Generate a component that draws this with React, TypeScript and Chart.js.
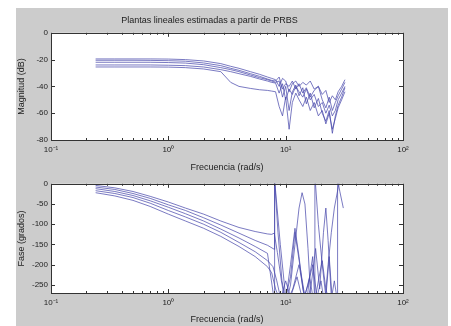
import React, { useEffect, useRef } from 'react';
import { Chart, registerables } from 'chart.js';
Chart.register(...registerables);

const titleText = 'Plantas lineales estimadas a partir de PRBS';
const xTitle = 'Frecuencia (rad/s)';
const magTitle = 'Magnitud (dB)';
const phaseTitle = 'Fase (grados)';

const decadeTicks = [0.1, 1, 10, 100];
const decadeLabels = ['10⁻¹', '10⁰', '10¹', '10²'];
const minorMultipliers = [2, 3, 4, 5, 6, 7, 8, 9];
const magTicks = [0, -20, -40, -60, -80];
const phaseTicks = [0, -50, -100, -150, -200, -250];

const magFreq = [0.24, 0.35, 0.5, 0.7, 1.0, 1.4, 2.0, 2.8, 3.4, 4.0, 5.0, 6.0, 7.0, 7.6, 8.2, 8.8, 9.4, 10.0, 10.7, 11.4, 12.2, 13.0, 14.0, 15.0, 16.2, 17.5, 19.0, 20.5, 22.0, 23.5, 25.0, 26.5, 28.0, 30.0, 32.0];
const mag1 = [-19.5, -19.5, -19.5, -19.5, -19.6, -20, -21, -23, -25, -26.5, -29, -31, -33, -34, -35, -40, -34, -36, -44, -38, -36, -40, -37, -39, -36, -42, -40, -46, -43, -52, -47, -50, -44, -40, -35];
const mag2 = [-20.5, -20.5, -20.5, -20.6, -20.8, -21.2, -22.5, -24.5, -26.5, -28, -30.5, -32.5, -34.5, -35.5, -36, -33, -42, -38, -40, -36, -42, -38, -45, -41, -48, -43, -40, -50, -56, -48, -58, -52, -47, -42, -37];
const mag3 = [-24, -24, -24, -24, -24.2, -24.5, -25.5, -27.5, -29, -30.5, -32.5, -34.5, -36, -37, -37.5, -45, -38, -50, -42, -46, -40, -44, -48, -42, -50, -46, -55, -52, -60, -54, -62, -58, -50, -45, -40];
const mag4 = [-25.5, -25.5, -25.5, -25.5, -25.6, -26, -27, -29, -37, -40, -41.5, -42.5, -43, -43.5, -44, -55, -62, -48, -72, -52, -45, -50, -55, -48, -58, -52, -62, -58, -68, -60, -72, -64, -56, -50, -44];
const mag5 = [-22, -22, -22, -22, -22.2, -22.6, -23.8, -26, -27.5, -29, -31.5, -33.5, -35, -36, -37, -36, -48, -40, -58, -44, -39, -47, -41, -53, -45, -56, -49, -60, -66, -58, -75, -62, -54, -48, -41];

const phFreq1 = [0.24, 0.35, 0.5, 0.7, 1.0, 1.4, 2.0, 2.8, 4.0, 5.5, 7.0, 7.6, 8.0, 8.5, 9.2, 10.0, 11.0, 12.0, 13.0, 13.8, 14.6, 15.5, 16.5, 17.7];
const phase1 = [-4, -10, -19, -31, -45, -60, -75, -92, -108, -118, -124, -125, -122, -170, -240, -300, -250, -150, -60, -22, -50, -160, -300, -320];
const phFreq2 = [0.24, 0.35, 0.5, 0.7, 1.0, 1.4, 2.0, 2.8, 4.0, 5.5, 7.0, 8.0, 8.05, 8.6, 9.3, 10.0, 11.0, 12.0, 13.0, 14.0, 15.0, 16.0, 17.0, 17.7, 17.75, 19.0, 20.5, 22.0, 23.5, 25.0];
const phase2 = [-8, -14, -24, -36, -52, -66, -84, -102, -122, -140, -152, -162, 10, -120, -240, -290, -200, -110, -180, -260, -300, -230, -180, -290, 20, -100, -200, -280, -180, -290];
const phFreq3 = [0.24, 0.35, 0.5, 0.7, 1.0, 1.4, 2.0, 2.8, 4.0, 5.5, 7.0, 8.0, 8.05, 9.0, 10.0, 11.0, 12.0, 13.5, 15.0, 16.5, 18.0, 19.5, 21.0, 22.0, 23.0, 24.5, 26.0];
const phase3 = [-12, -19, -29, -42, -58, -74, -92, -112, -134, -155, -172, -290, 10, -150, -280, -230, -120, -220, -300, -250, -160, -260, -120, -60, -140, -280, -300];
const phFreq4 = [0.24, 0.35, 0.5, 0.7, 1.0, 1.4, 2.0, 2.8, 4.0, 5.5, 7.0, 7.8, 8.4, 9.0, 10.0, 11.5, 13.0, 14.5, 16.0, 17.5, 19.0, 20.5, 22.0, 24.0, 26.0, 27.6, 27.7, 29.0, 31.0];
const phase4 = [-17, -24, -34, -48, -66, -82, -100, -120, -145, -168, -190, -205, -240, -280, -300, -260, -200, -280, -230, -300, -240, -190, -260, -300, -240, -290, 10, -20, -60];
const phFreq5 = [0.24, 0.35, 0.5, 0.7, 1.0, 1.4, 2.0, 2.8, 4.0, 5.5, 7.0, 7.6, 8.2, 9.0, 10.0, 11.0, 12.5, 14.0, 15.5, 17.0, 18.5, 20.0, 21.5, 23.0, 24.5, 26.0, 28.0, 30.0, 32.0];
const phase5 = [-22, -30, -41, -56, -75, -92, -110, -130, -155, -180, -205, -220, -260, -290, -240, -280, -230, -290, -250, -200, -280, -240, -300, -200, -120, -60, -10, 30, 60];

const lineColor = 'rgba(70,70,170,0.72)';
const textColor = '#222';
const fontFamily = '"Liberation Sans", Arial, sans-serif';

const xTickValues: number[] = [];
decadeTicks.forEach((d, i) => {
  xTickValues.push(d);
  if (i < decadeTicks.length - 1) minorMultipliers.forEach((m) => xTickValues.push(d * m));
});

const framePlugin = {
  id: 'frame',
  beforeDraw(chart: any) {
    const { ctx, chartArea: a } = chart;
    ctx.save();
    ctx.fillStyle = '#ffffff';
    ctx.fillRect(a.left, a.top, a.right - a.left, a.bottom - a.top);
    ctx.restore();
  },
  afterDatasetsDraw(chart: any) {
    const { ctx, chartArea: a } = chart;
    ctx.save();
    ctx.strokeStyle = '#333';
    ctx.lineWidth = 1;
    ctx.beginPath();
    const xs = chart.scales.x;
    xs.ticks.forEach((t: any) => {
      const px = Math.round(xs.getPixelForValue(t.value)) + 0.5;
      const len = decadeTicks.includes(t.value) ? 4 : 2;
      ctx.moveTo(px, a.bottom);
      ctx.lineTo(px, a.bottom - len);
      ctx.moveTo(px, a.top);
      ctx.lineTo(px, a.top + len);
    });
    const ys = chart.scales.y;
    ys.ticks.forEach((t: any) => {
      const py = Math.round(ys.getPixelForValue(t.value)) + 0.5;
      ctx.moveTo(a.left, py);
      ctx.lineTo(a.left + 4, py);
      ctx.moveTo(a.right, py);
      ctx.lineTo(a.right - 4, py);
    });
    ctx.stroke();
    ctx.strokeRect(Math.round(a.left) + 0.5, Math.round(a.top) + 0.5, Math.round(a.right - a.left), Math.round(a.bottom - a.top));
    ctx.restore();
  },
};

function makeConfig(series: { x: number[]; y: number[] }[], yMin: number, yTicks: number[], yTitle: string, top: boolean, xHeight: number, xTitlePad: number) {
  return {
    type: 'line' as const,
    data: {
      datasets: series.map((s) => ({
        data: s.y.map((v, i) => ({ x: s.x[i], y: v })),
        borderColor: lineColor,
        borderWidth: 1,
        pointRadius: 0,
        tension: 0,
        fill: false,
      })),
    },
    options: {
      responsive: false,
      animation: false as const,
      layout: { padding: { top: top ? 0 : 5, right: 35, bottom: 0, left: 0 } },
      plugins: {
        legend: { display: false },
        tooltip: { enabled: false },
        title: {
          display: top,
          text: titleText,
          color: textColor,
          font: { family: fontFamily, size: 9, weight: 'normal' as const },
          padding: { top: 7, bottom: 7 },
        },
      },
      scales: {
        x: {
          type: 'logarithmic' as const,
          min: 0.1,
          max: 100,
          grid: { display: false, drawTicks: false },
          border: { display: false },
          afterBuildTicks: (s: any) => {
            s.ticks = xTickValues.map((v) => ({ value: v, major: decadeTicks.includes(v) }));
          },
          afterFit: (s: any) => {
            s.height = xHeight;
          },
          ticks: {
            autoSkip: false,
            maxRotation: 0,
            padding: 5,
            color: textColor,
            font: { family: fontFamily, size: 8 },
            callback: (v: any) => {
              const idx = decadeTicks.indexOf(Number(v));
              return idx >= 0 ? decadeLabels[idx] : '';
            },
          },
          title: {
            display: true,
            text: xTitle,
            color: textColor,
            font: { family: fontFamily, size: 9 },
            padding: { top: 0, bottom: xTitlePad },
          },
        },
        y: {
          min: yMin,
          max: 0,
          grid: { display: false, drawTicks: false },
          border: { display: false },
          afterBuildTicks: (s: any) => {
            s.ticks = yTicks.map((v) => ({ value: v }));
          },
          afterFit: (s: any) => {
            s.width = 35;
          },
          ticks: {
            padding: 3,
            color: textColor,
            font: { family: fontFamily, size: 8 },
          },
          title: {
            display: true,
            text: yTitle,
            color: textColor,
            font: { family: fontFamily, size: 9 },
            padding: { top: 0, bottom: 0 },
          },
        },
      },
    },
    plugins: [framePlugin],
  };
}

function ChartCanvas({ config, width, height, left, top }: any) {
  const ref = useRef<HTMLCanvasElement>(null);
  useEffect(() => {
    const chart = new Chart(ref.current as HTMLCanvasElement, config as any);
    return () => chart.destroy();
  }, []);
  return (
    <canvas
      ref={ref}
      width={width}
      height={height}
      style={{ position: 'absolute', left, top, width, height, display: 'block' }}
    />
  );
}

export default function App() {
  const magConfig = makeConfig(
    [mag1, mag2, mag3, mag4, mag5].map((y) => ({ x: magFreq, y })),
    -80,
    magTicks,
    magTitle,
    true,
    36,
    3
  );
  const phaseConfig = makeConfig(
    [
      { x: phFreq1, y: phase1 },
      { x: phFreq2, y: phase2 },
      { x: phFreq3, y: phase3 },
      { x: phFreq4, y: phase4 },
      { x: phFreq5, y: phase5 },
    ],
    -270,
    phaseTicks,
    phaseTitle,
    false,
    33,
    1
  );
  return (
    <div style={{ position: 'fixed', left: 0, top: 0, width: 451, height: 326, background: '#ffffff', overflow: 'hidden' }}>
      <div style={{ position: 'absolute', left: 16, top: 8, width: 432, height: 318, background: '#cccccc' }} />
      <ChartCanvas config={magConfig} width={422} height={168} left={16} top={8} />
      <ChartCanvas config={phaseConfig} width={422} height={150} left={16} top={176} />
    </div>
  );
}
